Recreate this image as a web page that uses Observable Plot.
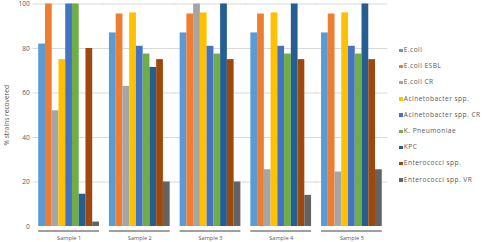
<!DOCTYPE html>
<html>
<head>
<meta charset="utf-8">
<script src="https://cdn.jsdelivr.net/npm/d3@7"></script>
<script src="https://cdn.jsdelivr.net/npm/@observablehq/plot@0.6"></script>
<style>
  html, body { margin: 0; padding: 0; background: #ffffff; }
  #wrap { position: relative; width: 485px; height: 242px; overflow: hidden; font-family: "Open Sans", "Liberation Sans", sans-serif; }
  #chart { position: absolute; left: 0; top: 0; }
  #legend { position: absolute; left: 0; top: 0; width: 485px; height: 242px; pointer-events: none; }
  .item { position: absolute; left: 399px; height: 8px; line-height: 8px; white-space: nowrap; font-size: 6.6px; color: #595959; letter-spacing: 0.45px; }
  .sw { display: inline-block; width: 3.5px; height: 3.5px; margin-right: 1.3px; vertical-align: 0px; }
</style>
</head>
<body>
<div id="wrap">
  <div id="chart"></div>
  <div id="legend"></div>
</div>
<script>
// Categories
const samples = ["Sample 1", "Sample 2", "Sample 3", "Sample 4", "Sample 5"];
const series = ["E.coli", "E.coli ESBL", "E.coli CR", "Acinetobacter spp.", "Acinetobacter spp. CR", "K. Pneumoniae", "KPC", "Enterococci spp.", "Enterococci spp. VR"];
const colors = ["#5b9bd5", "#ed7d31", "#a5a5a5", "#ffc000", "#4472c4", "#70ad47", "#255e91", "#9e480e", "#636363"];
const yTicks = [0, 20, 40, 60, 80, 100];

// Series values (% strains recovered), one entry per sample
const ecoli            = [82, 87, 87, 87, 87];
const ecoliESBL        = [100, 95.5, 95.5, 95.5, 95.5];
const ecoliCR          = [52, 63, 100, 25.5, 24.5];
const acinetobacter    = [75, 96, 96, 96, 96];
const acinetobacterCR  = [100, 81, 81, 81, 81];
const kPneumoniae      = [100, 77.5, 77.5, 77.5, 77.5];
const kpc              = [14.5, 71.5, 100, 100, 100];
const enterococci      = [80, 75, 75, 75, 75];
const enterococciVR    = [2, 20, 20, 14, 25.5];

const seriesValues = [ecoli, ecoliESBL, ecoliCR, acinetobacter, acinetobacterCR, kPneumoniae, kpc, enterococci, enterococciVR];

const data = samples.flatMap((s, i) => series.map((name, j) => ({ sample: s, series: name, value: seriesValues[j][i] })));

const chart = Plot.plot({
  width: 485,
  height: 242,
  marginLeft: 33,
  marginRight: 98,
  marginTop: 3.5,
  marginBottom: 16,
  style: { fontFamily: "'Open Sans', 'Liberation Sans', sans-serif", fontSize: "6.4px", color: "#595959", background: "transparent" },
  fx: { domain: samples, paddingInner: 0.141, paddingOuter: 0.074, round: false, label: null },
  x: { domain: series, padding: 0, round: false, axis: null },
  y: { domain: [0, 100], ticks: yTicks },
  color: { domain: series, range: colors },
  marks: [
    Plot.ruleY(yTicks.filter(d => d > 0), { stroke: "#d9d9d9", strokeWidth: 1, insetLeft: -5.6, insetRight: -5.6 }),
    Plot.axisY({ ticks: yTicks, tickSize: 0, tickPadding: 9, label: "% strains recovered", labelAnchor: "center", labelArrow: "none", labelOffset: 34, fontSize: 6.6, fill: "#595959" }),
    Plot.barY(data, { fx: "sample", x: "series", y: "value", fill: "series" }),
    Plot.ruleY([0], { dy: 4.5, stroke: "#404040", strokeWidth: 1 }),
    Plot.axisFx({ anchor: "bottom", tickSize: 0, tickPadding: 9.5, label: null, fontSize: 5.6, fill: "#595959" })
  ]
});
document.getElementById("chart").appendChild(chart);

// Legend
const legend = document.getElementById("legend");
series.forEach((name, j) => {
  const item = document.createElement("div");
  item.className = "item";
  item.style.top = (46 + j * 16.2) + "px";
  const sw = document.createElement("span");
  sw.className = "sw";
  sw.style.background = colors[j];
  item.appendChild(sw);
  item.appendChild(document.createTextNode(name));
  legend.appendChild(item);
});
</script>
</body>
</html>
